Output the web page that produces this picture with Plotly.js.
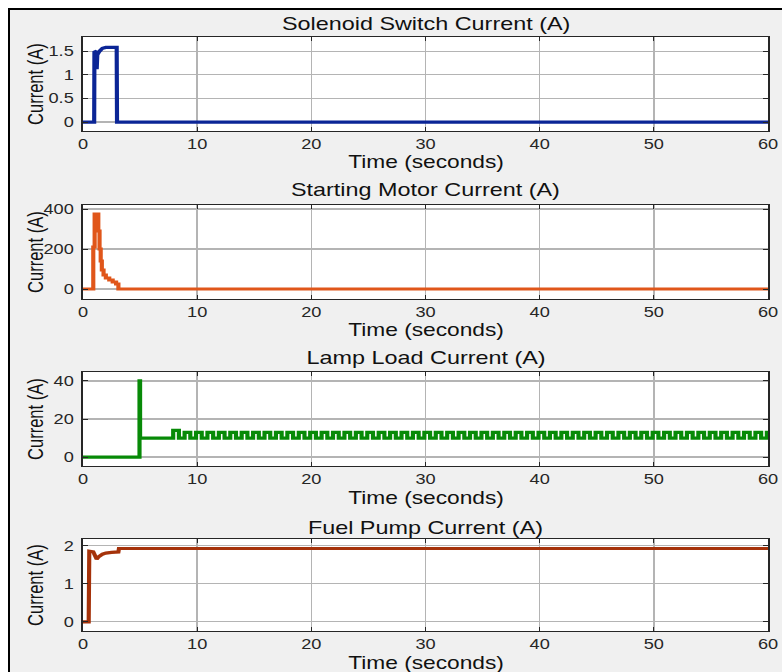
<!DOCTYPE html>
<html>
<head>
<meta charset="utf-8">
<script src="https://cdn.plot.ly/plotly-3.0.1.min.js"></script>
<style>
  html, body { margin: 0; padding: 0; background: #ffffff; overflow: hidden; }
  #frame { position: absolute; left: 8px; top: 8px; width: 820px; height: 720px;
           background: #f0f0f0; border-left: 2px solid #000; border-top: 2px solid #000; }
  #chart { position: absolute; left: 0; top: 0; width: 602px; height: 672px;
           transform: scaleX(1.299); transform-origin: 0 0; }
</style>
</head>
<body>
<div id="frame"></div>
<div id="chart"></div>
<script>
// ---------- data ----------
const panelTitles = ["Solenoid Switch Current (A)", "Starting Motor Current (A)", "Lamp Load Current (A)", "Fuel Pump Current (A)"];
const yLabel = "Current (A)";
const xLabel = "Time (seconds)";
const xTicks = [0, 10, 20, 30, 40, 50, 60];

const solT = [0, 0.98, 1.0, 1.15, 1.2, 1.25, 1.45, 1.7, 2.0, 2.95, 2.98, 60];
const solI = [0, 0, 1.5, 1.48, 1.12, 1.42, 1.5, 1.56, 1.58, 1.58, 0, 0];

const motT = [0, 0.9, 1.02, 1.34, 1.45, 1.55, 1.65, 1.8, 2.0, 2.3, 2.6, 2.9, 3.1, 60];
const motI = [0, 210, 375, 290, 200, 140, 95, 70, 55, 45, 35, 25, 0, 0];

const lampT = [0, 4.95, 5.0,
  7.9, 8.4, 8.9, 9.4, 9.9, 10.4, 10.9, 11.4, 11.9, 12.4, 12.9, 13.4, 13.9, 14.4, 14.9, 15.4, 15.9, 16.4,
  16.9, 17.4, 17.9, 18.4, 18.9, 19.4, 19.9, 20.4, 20.9, 21.4, 21.9, 22.4, 22.9, 23.4, 23.9, 24.4, 24.9,
  25.4, 25.9, 26.4, 26.9, 27.4, 27.9, 28.4, 28.9, 29.4, 29.9, 30.4, 30.9, 31.4, 31.9, 32.4, 32.9, 33.4,
  33.9, 34.4, 34.9, 35.4, 35.9, 36.4, 36.9, 37.4, 37.9, 38.4, 38.9, 39.4, 39.9, 40.4, 40.9, 41.4, 41.9,
  42.4, 42.9, 43.4, 43.9, 44.4, 44.9, 45.4, 45.9, 46.4, 46.9, 47.4, 47.9, 48.4, 48.9, 49.4, 49.9, 50.4,
  50.9, 51.4, 51.9, 52.4, 52.9, 53.4, 53.9, 54.4, 54.9, 55.4, 55.9, 56.4, 56.9, 57.4, 57.9, 58.4, 58.9,
  59.4, 59.9, 60];
const lampI = [0, 40, 10,
  14, 10, 13, 10, 13, 10, 13, 10, 13, 10, 13, 10, 13, 10, 13, 10, 13, 10,
  13, 10, 13, 10, 13, 10, 13, 10, 13, 10, 13, 10, 13, 10, 13, 10, 13,
  10, 13, 10, 13, 10, 13, 10, 13, 10, 13, 10, 13, 10, 13, 10, 13, 10,
  13, 10, 13, 10, 13, 10, 13, 10, 13, 10, 13, 10, 13, 10, 13, 10, 13,
  10, 13, 10, 13, 10, 13, 10, 13, 10, 13, 10, 13, 10, 13, 10, 13, 10,
  13, 10, 13, 10, 13, 10, 13, 10, 13, 10, 13, 10, 13, 10, 13, 10, 13,
  10, 13, 13];

const fuelT = [0, 0.5, 0.55, 0.9, 1.2, 1.4, 1.7, 2.0, 2.5, 3.1, 3.15, 60];
const fuelI = [0, 0, 1.86, 1.84, 1.65, 1.72, 1.78, 1.81, 1.83, 1.84, 1.93, 1.93];

const yRanges = [[-0.19, 1.8], [-50, 420], [-4.7, 44.7], [-0.24, 2.18]];
const yTicks = [[0, 0.5, 1, 1.5], [0, 200, 400], [0, 20, 40], [0, 1, 2]];
const yTickText = [["0", "0.5", "1", "1.5"], ["0", "200", "400"], ["0", "20", "40"], ["0", "1", "2"]];
const colors = ["#0b2596", "#e0561a", "#078a07", "#a5320a"];

// ---------- layout geometry (pixel positions of the reference, 782 x 672) ----------
const W = 782, H = 672;
const plotLeft = 83, plotRight = 768;
const plotTops = [37, 205, 372, 539];
const plotBottoms = [131, 299, 466, 631];
const titleY = [24, 190, 358, 528];
const xlabY = [162, 330, 498, 662.5];
const ylabX = 35;

const series = [[solT, solI], [motT, motI], [lampT, lampI], [fuelT, fuelI]];
const shapes = ["linear", "hv", "hv", "linear"];

const font = "Liberation Sans, Arial, Helvetica, sans-serif";
const traces = [];
const layout = {
  width: 602, height: H, autosize: false,
  margin: {l: 0, r: 0, t: 0, b: 0, pad: 0},
  paper_bgcolor: "rgba(0,0,0,0)",
  plot_bgcolor: "#ffffff",
  showlegend: false,
  font: {family: font, color: "#262626"},
  annotations: []
};

for (let i = 0; i < 4; i++) {
  const sfx = i === 0 ? "" : String(i + 1);
  traces.push({
    x: series[i][0], y: series[i][1], type: "scatter", mode: "lines",
    line: {color: colors[i], width: 3.2, shape: shapes[i]},
    xaxis: "x" + sfx, yaxis: "y" + sfx, hoverinfo: "skip"
  });
  const common = {
    showline: true, linecolor: "#262626", linewidth: 1.3, mirror: "ticks",
    ticks: "inside", ticklen: 4, tickcolor: "#262626", tickwidth: 1,
    showgrid: true, gridcolor: "#b4b4b4", gridwidth: 1.2, zeroline: false,
    tickfont: {family: font, size: 14, color: "#262626"}, fixedrange: true
  };
  layout["xaxis" + sfx] = Object.assign({}, common, {
    domain: [plotLeft / W, plotRight / W], anchor: "y" + sfx,
    range: [0, 60], tickvals: xTicks, ticktext: xTicks.map(String)
  });
  layout["yaxis" + sfx] = Object.assign({}, common, {
    domain: [1 - plotBottoms[i] / H, 1 - plotTops[i] / H], anchor: "x" + sfx,
    range: yRanges[i], tickvals: yTicks[i], ticktext: yTickText[i],
    ticklabelstandoff: 3
  });
  const cx = (plotLeft + plotRight) / 2 / W;
  layout.annotations.push({
    text: panelTitles[i], xref: "paper", yref: "paper", x: cx, y: 1 - titleY[i] / H,
    xanchor: "center", yanchor: "middle", showarrow: false,
    font: {family: font, size: 18, color: "#111111"}
  });
  layout.annotations.push({
    text: xLabel, xref: "paper", yref: "paper", x: cx, y: 1 - xlabY[i] / H,
    xanchor: "center", yanchor: "middle", showarrow: false,
    font: {family: font, size: 17.5, color: "#111111"}
  });
  layout.annotations.push({
    text: yLabel, xref: "paper", yref: "paper", x: ylabX / W,
    y: 1 - (plotTops[i] + plotBottoms[i]) / 2 / H,
    xanchor: "center", yanchor: "middle", textangle: -90, showarrow: false,
    font: {family: font, size: 16.5, color: "#111111"}
  });
}

Plotly.newPlot("chart", traces, layout, {staticPlot: true, displayModeBar: false});
</script>
</body>
</html>
